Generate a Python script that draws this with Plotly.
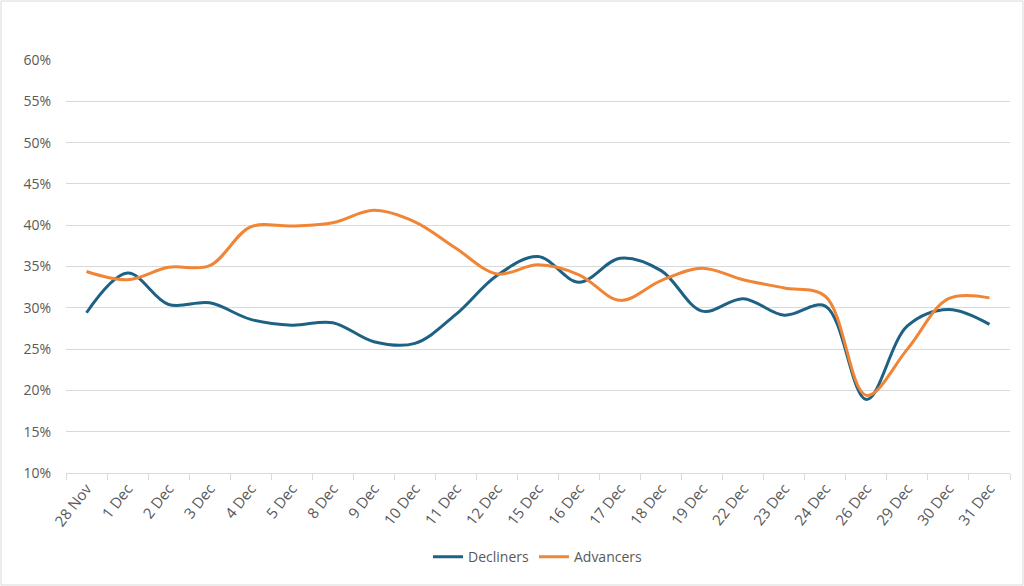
import plotly.graph_objects as go

categories = ["28 Nov", "1 Dec", "2 Dec", "3 Dec", "4 Dec", "5 Dec", "8 Dec", "9 Dec",
              "10 Dec", "11 Dec", "12 Dec", "15 Dec", "16 Dec", "17 Dec", "18 Dec",
              "19 Dec", "22 Dec", "23 Dec", "24 Dec", "26 Dec", "29 Dec", "30 Dec", "31 Dec"]
decliners = [0.294, 0.342, 0.304, 0.306, 0.286, 0.279, 0.282, 0.259, 0.257, 0.292,
             0.339, 0.362, 0.331, 0.360, 0.345, 0.296, 0.311, 0.291, 0.302, 0.189,
             0.278, 0.298, 0.280]
advancers = [0.344, 0.334, 0.349, 0.351, 0.398, 0.399, 0.403, 0.418, 0.404, 0.372,
             0.341, 0.352, 0.340, 0.309, 0.333, 0.348, 0.334, 0.324, 0.314, 0.194,
             0.250, 0.311, 0.312]
y_ticks = [0.10, 0.15, 0.20, 0.25, 0.30, 0.35, 0.40, 0.45, 0.50, 0.55, 0.60]

fig = go.Figure()
fig.add_trace(go.Scatter(x=categories, y=decliners, name="Decliners", mode="lines",
                         line=dict(color="#1D6185", width=3, shape="spline", smoothing=1.0)))
fig.add_trace(go.Scatter(x=categories, y=advancers, name="Advancers", mode="lines",
                         line=dict(color="#F08536", width=3, shape="spline", smoothing=1.0)))

W, H = 1024, 586
ml, mr, mt, mb = 66, 14, 60, 113
pw, ph = W - ml - mr, H - mt - mb

fig.update_layout(
    width=W, height=H,
    margin=dict(l=ml, r=mr, t=mt, b=mb, autoexpand=False),
    paper_bgcolor="white", plot_bgcolor="white",
    font=dict(family="Open Sans, sans-serif", color="#595959", size=14),
    showlegend=True,
    legend=dict(orientation="h", x=0.5, xanchor="center", y=-0.165, yanchor="top",
                bgcolor="rgba(0,0,0,0)", font=dict(size=14, color="#595959")),
    xaxis=dict(type="category", tickangle=-52, showgrid=False, showline=True,
               linecolor="#D9D9D9", linewidth=1, ticks="outside", tickson="boundaries",
               ticklen=6, tickcolor="#D9D9D9", tickfont=dict(size=15, color="#595959"),
               range=[-0.5, len(categories) - 0.5], automargin=False),
    yaxis=dict(range=[0.10, 0.60], tickvals=y_ticks, tickformat=".0%", showgrid=True,
               gridcolor="#D9D9D9", gridwidth=1, zeroline=False, showline=False,
               ticklabelstandoff=14, tickfont=dict(size=14, color="#595959"), automargin=False),
    shapes=[dict(type="rect", xref="paper", yref="paper",
                 x0=-(ml - 1) / pw, x1=1 + (mr - 1) / pw,
                 y0=-(mb - 1) / ph, y1=1 + (mt - 1) / ph,
                 line=dict(color="#D9D9D9", width=1), fillcolor="rgba(0,0,0,0)", layer="below")],
)

fig.write_html("out.html", config={"displayModeBar": False},
               post_script="document.body.style.margin='0';")
